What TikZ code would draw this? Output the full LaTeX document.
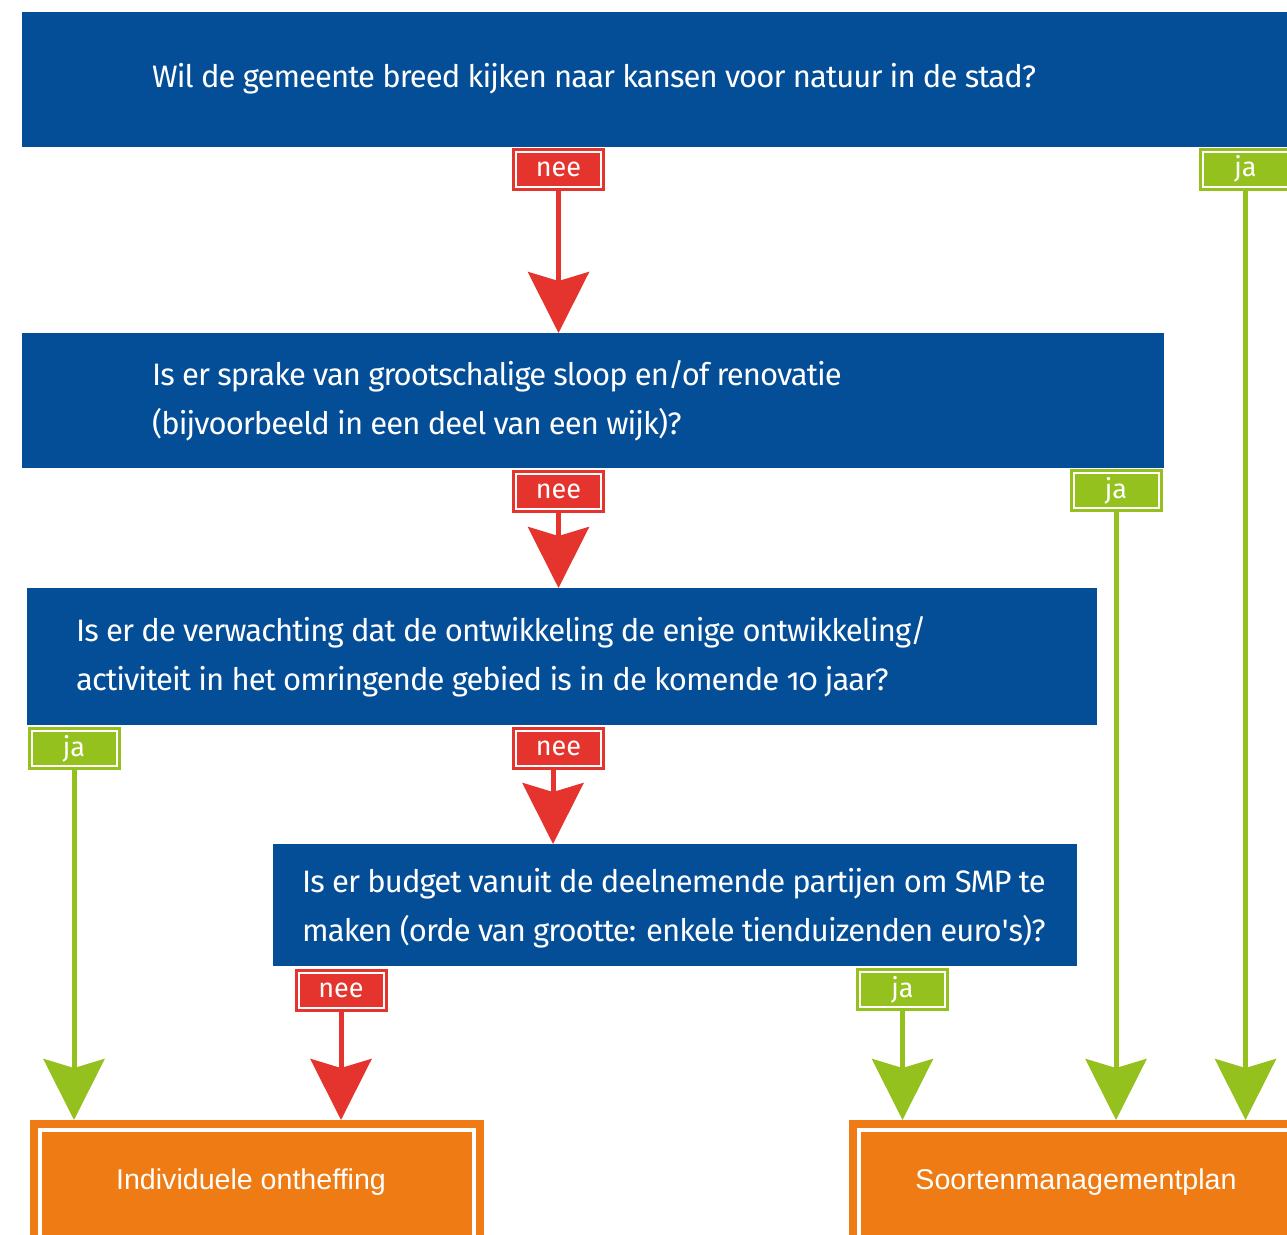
\documentclass[tikz,border=0pt]{standalone}
\usepackage{fontspec}
\setmainfont{Fira Sans}[Numbers=OldStyle]
\newfontfamily\qfont{Fira Sans}[Numbers=OldStyle, LetterSpace=-3]
\newfontfamily\endfont{Liberation Sans}
\usetikzlibrary{arrows.meta}
\definecolor{qblue}{HTML}{044D97}
\definecolor{neered}{HTML}{E5332E}
\definecolor{jagreen}{HTML}{95C11F}
\definecolor{endorange}{HTML}{EE7B14}
\tikzset{
  qbox/.style={fill=qblue, draw=none, inner sep=0pt, outer sep=0pt, anchor=north west},
  qtext/.style={text=white, anchor=base west, inner sep=0pt, align=left, font=\qfont\fontsize{31}{49}\selectfont},
  tag/.style={draw=white, line width=2pt, minimum width=85pt, minimum height=35pt, inner sep=0pt, outer sep=4pt, text=white, font=\fontsize{27}{27}\selectfont},
  neetag/.style={tag, fill=neered, preaction={draw=neered, line width=8pt}},
  jatag/.style={tag, fill=jagreen, preaction={draw=jagreen, line width=8pt}},
  endbox/.style={fill=endorange, draw=white, line width=4pt, preaction={draw=endorange, line width=20pt}, inner sep=0pt, outer sep=10pt, anchor=north west},
  endtext/.style={text=white, anchor=base, inner sep=0pt, font=\endfont\fontsize{28.6}{28.6}\selectfont},
  head/.style={-{Stealth[length=61pt,width=61pt,inset=9pt]}},
  redarrow/.style={draw=neered, line width=5pt, head},
  greenarrow/.style={draw=jagreen, line width=5pt, head},
}
\begin{document}
\begin{tikzpicture}[x=1pt,y=-1pt]
\useasboundingbox (0,0) rectangle (1287,1234);
\clip (0,0) rectangle (1287,1234);
% question boxes
\node[qbox, minimum width=1280pt, minimum height=135pt] (q1) at (22,12) {};
\node[qbox, minimum width=1142pt, minimum height=135pt] (q2) at (22,333) {};
\node[qbox, minimum width=1070pt, minimum height=137pt] (q3) at (27,588) {};
\node[qbox, minimum width=804pt, minimum height=122pt] (q4) at (273,844) {};
\node[qtext] (t1) at (152,87) {Wil de gemeente breed kijken naar kansen voor natuur in de stad?};
\node[qtext] (t2) at (152,434) {Is er sprake van grootschalige sloop en/of renovatie\\(bijvoorbeeld in een deel van een wijk)?};
\node[qtext] (t3) at (76,690) {Is er de verwachting dat de ontwikkeling de enige ontwikkeling/\\activiteit in het omringende gebied is in de komende 10 jaar?};
\node[qtext] (t4) at (302,941) {Is er budget vanuit de deelnemende partijen om SMP te\\maken (orde van grootte: enkele tienduizenden euro\textquotesingle s)?};
% end boxes
\node[endbox, minimum width=434pt, minimum height=140pt] (e1) at (30,1120) {};
\node[endbox, minimum width=460pt, minimum height=140pt] (e2) at (849,1120) {};
\node[endtext] (et1) at (251,1189) {Individuele ontheffing};
\node[endtext] (et2) at (1076,1189) {Soortenmanagementplan};
% tags
\node[neetag] (n1) at (558.5,169.5) {nee};
\node[jatag] (j1) at (1245.5,169) {ja};
\node[neetag] (n2) at (558.5,491.5) {nee};
\node[jatag] (j2) at (1116,490.5) {ja};
\node[jatag] (j3) at (74,748.5) {ja};
\node[neetag] (n3) at (558.5,748.5) {nee};
\node[neetag] (n4) at (341,990) {nee};
\node[jatag] (j4) at (902.5,989.5) {ja};
% connectors
\coordinate (n3s) at (553,770);
\draw[redarrow] (n1.south) -- (n1.south |- q2.north);
\draw[redarrow] (n2.south) -- (n2.south |- q3.north);
\draw[redarrow] (n3s) -- (n3s |- q4.north);
\draw[redarrow] (n4.south) -- (n4.south |- e1.north);
\draw[greenarrow] (j3.south) -- (j3.south |- e1.north);
\draw[greenarrow] (j4.south) -- (j4.south |- e2.north);
\draw[greenarrow] (j2.south) -- (j2.south |- e2.north);
\draw[greenarrow] (j1.south) -- (j1.south |- e2.north);
\end{tikzpicture}
\end{document}
